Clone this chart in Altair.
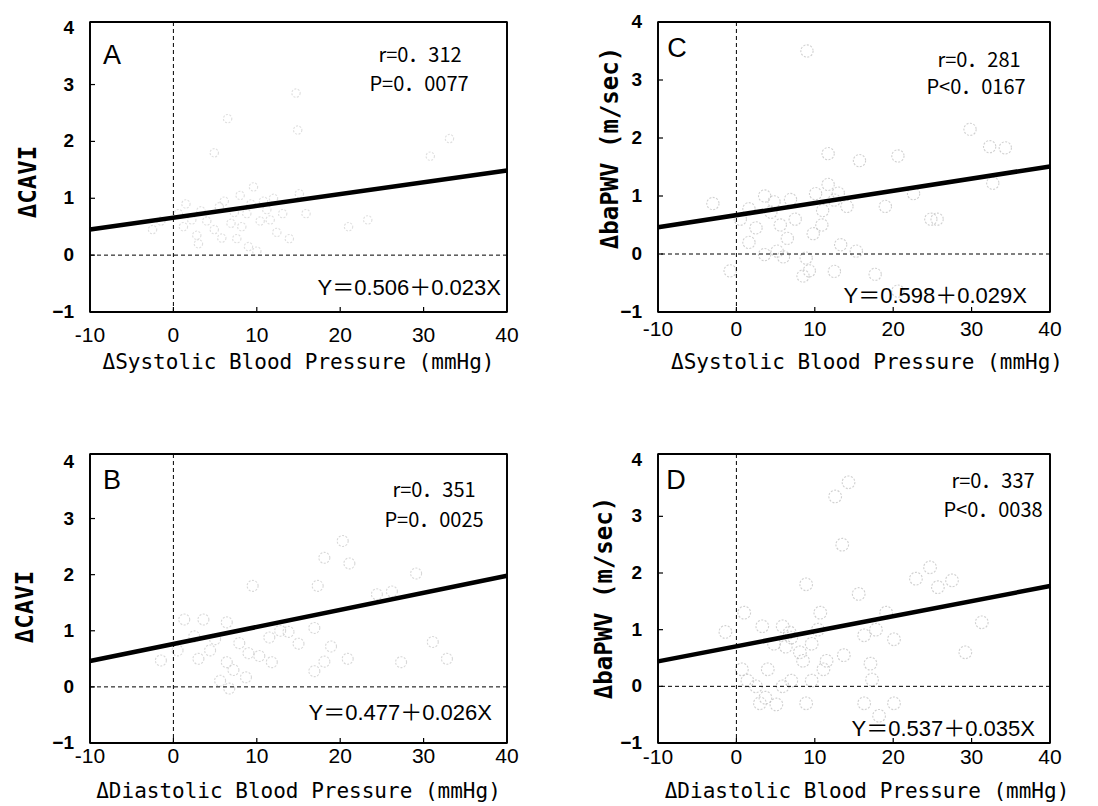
import altair as alt
import pandas as pd

# ---------------- data ----------------
X_TICKS = [-10, 0, 10, 20, 30, 40]
X_LABELS = ["-10", "0", "10", "20", "30", "40"]
Y_TICKS = [-1, 0, 1, 2, 3, 4]
Y_LABELS = ["−1", "0", "1", "2", "3", "4"]
LINE_X = [-10, 40]

# Panel A: dCAVI vs dSBP
A_x = [-2.5, -1.5, 0.6, 1.2, 2.2, 2.8, 3.3, 4.0, 4.9, 5.5, 6.1, 6.9, 7.3, 7.6, 8.2, 8.8, 9.3, 9.6, 10.0, 10.4, 10.8,
       11.2, 11.6, 12.0, 12.4, 13.1, 13.9, 15.1, 15.9, 6.5, 14.7, 14.9, 21.0, 23.3, 30.8, 33.1, 4.9, 3.0, 5.8, 8.0, 9.0, 1.5]
A_y = [0.45, 0.6, 0.73, 0.5, 0.62, 0.35, 0.78, 0.6, 0.45, 0.85, 0.95, 0.56, 0.75, 0.29, 0.5, 0.73, 0.9, 1.2, 0.07, 0.6, 0.95,
       0.8, 0.62, 1.0, 0.4, 0.73, 0.29, 1.08, 0.73, 2.4, 2.85, 2.2, 0.5, 0.62, 1.74, 2.05, 1.8, 0.2, 0.3, 1.05, 0.15, 0.9]
A_line = [0.45, 1.49]

# Panel B: dCAVI vs dDBP
B_x = [-1.5, 0.5, 1.3, 3.6, 6.4, 4.4, 6.4, 7.9, 8.7, 6.7, 5.6, 10.3, 11.8, 11.5, 13.8, 15.0, 16.9, 9.5, 17.3, 18.1,
       20.3, 21.1, 24.4, 26.2, 29.1, 18.9, 20.9, 18.1, 16.9, 27.3, 31.1, 32.8, 2.5, 5.0, 7.2, 9.0, 3.0, 12.8]
B_y = [0.47, 0.65, 1.2, 1.2, 1.15, 0.65, 0.44, 0.78, 0.17, -0.03, 0.11, 0.55, 0.44, 0.88, 0.98, 0.77, 1.05, 1.8, 1.8, 2.3,
       2.6, 2.2, 1.65, 1.7, 2.02, 0.72, 0.5, 0.45, 0.28, 0.44, 0.8, 0.5, 0.9, 0.85, 0.3, 0.6, 0.5, 1.0]
B_line = [0.46, 1.98]

# Panel C: dbaPWV vs dSBP
C_x = [-3.0, -0.8, 1.6, 3.6, 4.4, 5.6, 5.2, 3.6, 1.6, 6.9, 6.5, 8.9, 9.3, 8.5, 10.9, 10.1, 11.7, 12.5, 14.1, 13.3, 15.3,
       12.5, 17.7, 11.7, 15.7, 19.0, 20.6, 22.6, 24.8, 20.6, 29.8, 32.3, 34.3, 32.7, 9.0, 25.6, 2.5, 7.5, 9.8, 11.0,
       13.0, 4.8, 6.0, 0.5]
C_y = [0.87, -0.29, 0.78, 1.0, 0.72, 0.5, 0.05, -0.01, 0.2, 0.94, 0.27, -0.07, -0.29, -0.38, 0.5, 1.04, 1.2, 0.93, 0.82,
       0.16, 0.05, -0.3, -0.35, 1.73, 1.61, 0.82, 1.69, 1.04, 0.6, -0.64, 2.15, 1.85, 1.83, 1.22, 3.5, 0.6, 0.45, 0.6,
       0.35, 0.75, 1.05, 0.9, -0.05, 0.6]
C_line = [0.46, 1.51]

# Panel D: dbaPWV vs dDBP
D_x = [-1.4, 1.0, 0.7, 1.4, 3.3, 4.0, 3.7, 5.9, 6.3, 7.0, 8.1, 9.6, 10.4, 10.7, 8.9, 12.6, 14.3, 13.5, 15.6, 16.3, 17.8,
       19.1, 20.1, 13.7, 11.1, 17.1, 17.3, 16.3, 20.1, 18.2, 8.9, 5.1, 5.9, 9.6, 7.0, 22.9, 24.7, 25.7, 27.5, 31.3, 29.2,
       2.5, 4.8, 6.8, 8.5, 11.5, 3.0]
D_y = [0.96, 1.3, 0.3, 0.1, 1.06, 0.3, -0.2, 1.06, 0.7, 0.86, 0.6, 0.75, 1.0, 1.3, 1.8, 3.35, 3.6, 2.5, 1.63, 0.9, 1.0,
       1.3, 0.83, 0.55, 0.3, 0.4, 0.12, -0.3, -0.3, -0.52, -0.3, -0.32, 0.0, 0.1, 0.1, 1.9, 2.1, 1.75, 1.87, 1.13, 0.6,
       0.0, 0.75, 0.95, 0.45, 0.45, -0.3]
D_line = [0.44, 1.77]

SBP_TITLE = "ΔSystolic Blood Pressure (mmHg)"
DBP_TITLE = "ΔDiastolic Blood Pressure (mmHg)"
CAVI_TITLE = "ΔCAVI"
PWV_TITLE = "ΔbaPWV  (m/sec)"

SANS = "Liberation Sans"
MONO = "DejaVu Sans Mono"
JP = "Noto Sans CJK JP"


def panel(px, py, ly, letter, r_txt, p_txt, eq_txt, xtitle, ytitle, w, h, ymax,
          pt_color, pt_size, lay):
    xs = alt.Scale(domain=[-10, 40], nice=False, zero=False)
    ys = alt.Scale(domain=[-1, ymax], nice=False, zero=False)

    X = lambda f: alt.X(f, scale=xs, axis=None)
    Y = lambda f: alt.Y(f, scale=ys, axis=None)

    x0, x1, y0, y1 = X_TICKS[0], X_TICKS[-1], Y_TICKS[0], ymax

    def seg(xa, xb, ya, yb, width):
        # a simple two-point line, built the same way as the regression line
        return alt.Chart(pd.DataFrame({"x": [xa, xb], "y": [ya, yb]})).mark_line(
            color="black", strokeWidth=width).encode(x=X("x:Q"), y=Y("y:Q"))

    # plot frame (four sides)
    frame = [seg(x0, x1, y0, y0, 1.8), seg(x0, x1, y1, y1, 1.8),
             seg(x0, x0, y0, y1, 1.8), seg(x1, x1, y0, y1, 1.8)]
    # short inward ticks (5 px)
    dx = 5 * (x1 - x0) / w
    dy = 5 * (y1 - y0) / h
    ticks = [seg(t, t, y0, y0 + dy, 1.2) for t in X_TICKS[1:-1]] + \
            [seg(x0, x0 + dx, t, t, 1.2) for t in Y_TICKS[1:-1]]

    pts = alt.Chart(pd.DataFrame({"x": px, "y": py})).mark_point(
        filled=False, shape="circle", size=pt_size, color=pt_color, strokeWidth=1.1, strokeDash=[2, 1.5]
    ).encode(x=X("x:Q"), y=Y("y:Q"))

    hz = alt.Chart(pd.DataFrame({"y": [0]})).mark_rule(
        color="black", strokeWidth=1, strokeDash=[4, 3]).encode(y=Y("y:Q"))
    vt = alt.Chart(pd.DataFrame({"x": [0]})).mark_rule(
        color="black", strokeWidth=1, strokeDash=[4, 3]).encode(x=X("x:Q"))
    ln = alt.Chart(pd.DataFrame({"x": LINE_X, "y": ly})).mark_line(
        color="black", strokeWidth=4.5).encode(x=X("x:Q"), y=Y("y:Q"))

    # tick labels (drawn as text through the scales)
    xlab = alt.Chart(pd.DataFrame({"x": X_TICKS, "lab": X_LABELS})).mark_text(
        font=SANS, fontSize=21, baseline="top", align="center", color="black"
    ).encode(x=X("x:Q"), y=alt.value(h + lay["xlp"]), text="lab:N")
    ylab = alt.Chart(pd.DataFrame({"y": Y_TICKS, "lab": Y_LABELS})).mark_text(
        font=SANS, fontSize=19, fontWeight="bold", baseline="middle", align="right", color="black"
    ).encode(y=Y("y:Q"), x=alt.value(-16), text="lab:N")

    def txt(s, x, y, font, size, align="center", weight="normal", angle=0):
        return alt.Chart(pd.DataFrame({"t": [s]})).mark_text(
            font=font, fontSize=size, align=align, baseline="middle", color="black", fontWeight=weight,
            angle=angle
        ).encode(text="t:N", x=alt.value(x), y=alt.value(y))

    texts = [
        txt(xtitle, w / 2 + lay["xtdx"], h + lay["xty"], MONO, 21),
        txt(ytitle, lay["ytx"], lay["yty"], MONO, 24, weight="bold", angle=270),
        txt(letter, lay["L"][0], lay["L"][1], SANS, 27),
        txt(r_txt, lay["r"][0], lay["r"][1], JP, 20),
        txt(p_txt, lay["p"][0], lay["p"][1], JP, 20),
        txt(eq_txt, lay["eq"][0], lay["eq"][1], SANS + ", " + JP, 22, align="right"),
    ]
    return alt.layer(*frame, *ticks, pts, hz, vt, ln, xlab, ylab, *texts).properties(width=w, height=h)


A = panel(A_x, A_y, A_line, "A", "r=0．312", "P=0．0077", "Y＝0.506＋0.023X", SBP_TITLE, CAVI_TITLE,
          417, 290, 4.1, "#d2d2d2", 70,
          dict(xlp=13, xtdx=0, xty=51, ytx=-61, yty=160, L=(22, 34), r=(330, 34), p=(329, 63), eq=(411, 266)))
C = panel(C_x, C_y, C_line, "C", "r=0．281", "P<0．0167", "Y＝0.598＋0.029X", SBP_TITLE, PWV_TITLE,
          392, 290, 4.0, "#bdbdbd", 150,
          dict(xlp=7, xtdx=13, xty=51, ytx=-47, yty=126, L=(19, 27), r=(321, 39), p=(318, 66), eq=(369, 274)))
B = panel(B_x, B_y, B_line, "B", "r=0．351", "P=0．0025", "Y＝0.477＋0.026X", DBP_TITLE, CAVI_TITLE,
          417, 289, 4.15, "#c8c8c8", 120,
          dict(xlp=3, xtdx=0, xty=49, ytx=-64, yty=153, L=(22, 27), r=(344, 37), p=(344, 67), eq=(402, 259)))
D = panel(D_x, D_y, D_line, "D", "r=0．337", "P<0．0038", "Y＝0.537＋0.035X", DBP_TITLE, PWV_TITLE,
          392, 289, 4.1, "#bdbdbd", 160,
          dict(xlp=4, xtdx=13, xty=49, ytx=-53, yty=144, L=(18, 27), r=(335, 28), p=(335, 57), eq=(377, 275)))

chart = alt.concat(A, C, B, D, columns=2, spacing={"row": 142, "column": 151}, bounds="flush").properties(
    padding={"left": 13, "top": 12, "right": 5, "bottom": 0},
    background="white",
).configure_view(stroke="black", strokeWidth=1.6)

chart.save("out.html", embed_options={"renderer": "svg", "actions": False})
